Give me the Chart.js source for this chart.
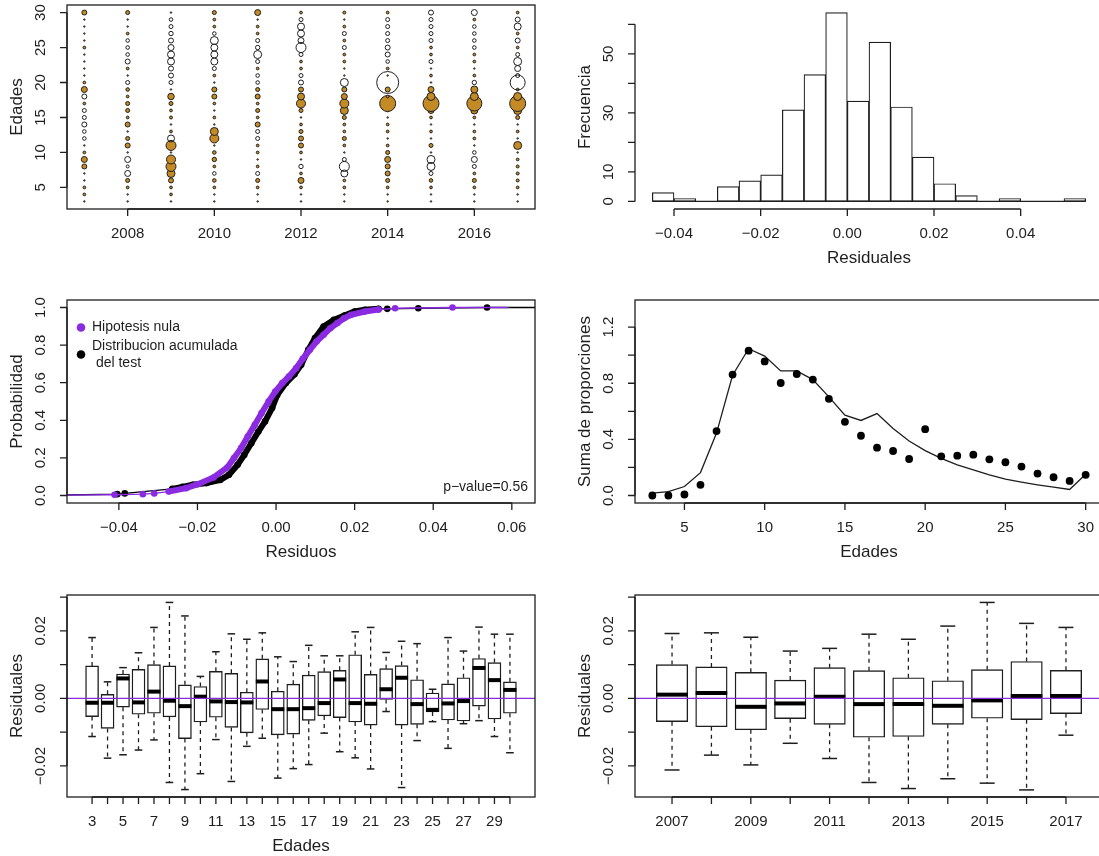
<!DOCTYPE html>
<html lang="es">
<head>
<meta charset="utf-8">
<title>Diagnósticos de residuales</title>
<script src="https://cdn.jsdelivr.net/npm/chart.js@4.4.1/dist/chart.umd.min.js"></script>
<style>
  html, body { margin: 0; padding: 0; background: #fff; }
  #lienzo { position: relative; width: 1099px; height: 856px; overflow: hidden; background: #fff; }
  #lienzo canvas { position: absolute; }
</style>
</head>
<body>
<div id="lienzo">
  <canvas id="burbujas"></canvas>
  <canvas id="histograma"></canvas>
  <canvas id="acumulada"></canvas>
  <canvas id="proporciones"></canvas>
  <canvas id="cajasEdad"></canvas>
  <canvas id="cajasAnio"></canvas>
</div>
<script>
// ---- panel 1: residuales por año y edad (edades 3..30), positivo = naranja
const anios = [2007, 2008, 2009, 2010, 2011, 2012, 2013, 2014, 2015, 2016, 2017];
const edades = [3, 4, 5, 6, 7, 8, 9, 10, 11, 12, 13, 14, 15, 16, 17, 18, 19, 20, 21, 22, 23, 24, 25, 26, 27, 28, 29, 30];
const res2007 = [0.3, 0.55, 0.55, 0.3, 0.3, 1.0, 1.2, 0.55, 0.3, -0.72, -0.72, -1.0, -0.8, -0.8, 0.55, -1.0, 1.2, 0.55, 0.3, 0.3, 0.3, 0.3, 0.55, 0.3, 0.3, 0.3, 0.3, 1.0];
const res2008 = [0.3, 0.3, 0.55, 0.8, -1.2, -0.6, -1.2, 0.3, 1.0, 0.8, 0.3, 1.0, 0.55, 0.8, 0.8, 0.55, 0.72, -0.8, 0.3, 0.55, -1.0, -0.72, -0.72, -0.72, 0.55, 0.3, 0.3, 0.8];
const res2009 = [0.3, 0.55, 0.55, 1.0, 1.6, 2.0, 1.8, 0.3, 2.0, -1.4, 0.55, 0.3, 0.6, 0.55, 0.8, 1.3, 0.3, -0.8, -1.0, -1.0, -1.4, -1.4, -1.2, -1.0, -0.88, -0.8, -0.72, 0.3];
const res2010 = [0.3, 0.3, 0.55, 0.72, -0.72, 0.55, 0.88, 0.72, 0.3, 1.8, 1.6, 0.3, 0.55, 0.3, 0.55, 1.0, 1.0, 0.3, 0.55, -0.8, -1.4, -1.4, -1.4, -1.6, -0.72, 0.55, 0.55, 0.8];
const res2011 = [0.3, 0.3, 0.55, 0.8, -0.8, 0.55, 0.3, 0.55, 0.55, -0.8, -0.8, 1.0, 0.55, 0.8, 0.55, 1.0, 0.8, -0.72, -0.72, 0.55, -0.8, -1.6, -0.88, -0.8, 0.55, 0.55, 0.3, 1.2];
const res2012 = [0.3, 0.3, 0.55, 1.2, 0.55, -0.88, 0.3, 0.55, 1.0, 1.0, 0.8, 0.55, 0.3, 0.8, 1.8, 1.4, 1.0, -1.0, -0.8, 0.55, 0.55, -0.8, -2.0, -1.2, -1.4, -1.4, -0.8, 0.55];
const res2013 = [0.3, 0.3, 0.55, 0.55, -1.4, -2.0, -0.8, 0.3, 0.55, 0.8, 0.55, 0.55, 0.8, 1.6, 1.8, 1.2, 1.0, -1.6, 0.3, 0.3, 0.55, 0.55, -0.8, 0.55, -0.8, 0.55, 0.3, 0.6];
const res2014 = [0.3, 0.3, 0.55, 0.8, 1.0, 1.0, 1.2, 0.8, 0.55, 0.3, 0.55, 0.55, 0.3, 0.55, 3.2, 0.55, 1.0, -4.4, 0.3, 0.55, -0.72, -1.0, -1.0, -0.8, -0.8, -0.8, -0.8, 0.55];
const res2015 = [0.3, 0.3, 0.55, 0.72, -0.8, -1.6, -1.6, 0.3, 0.8, 0.3, 0.55, 0.3, 0.55, 1.2, 3.2, 1.6, 1.2, 0.3, 0.55, 0.3, -0.8, 0.55, 0.55, -0.8, -0.8, -0.8, -0.8, -1.0];
const res2016 = [0.3, 0.3, 0.55, 0.8, 0.55, -0.8, -1.2, -0.72, 0.3, 0.55, 0.55, 0.3, 0.55, 1.4, 3.0, 1.6, 1.4, -0.88, 0.55, 0.3, 0.55, 0.55, -0.72, -0.72, -0.72, -0.72, 0.55, -1.2];
const res2017 = [0.3, 0.3, 0.55, 0.6, 0.6, 0.6, 0.55, 0.3, 1.6, 0.3, 0.55, 0.3, 0.8, 1.6, 3.2, 1.6, 0.55, -3.0, -0.8, -1.2, -1.6, -0.8, 0.55, -1.0, 0.55, -1.4, -1.0, 0.55];
const residuosPorAnio = [res2007, res2008, res2009, res2010, res2011, res2012, res2013, res2014, res2015, res2016, res2017];

// ---- panel 2: histograma de residuales
const marcasClase = [-0.0425, -0.0375, -0.0325, -0.0275, -0.0225, -0.0175, -0.0125, -0.0075, -0.0025, 0.0025,
                     0.0075, 0.0125, 0.0175, 0.0225, 0.0275, 0.0325, 0.0375, 0.0425, 0.0475, 0.0525];
const frecuencias = [3, 1, 0, 5, 7, 9, 31, 43, 64, 34, 54, 32, 15, 6, 2, 0, 1, 0, 0, 1];
const anchoClase = 0.005;

// ---- panel 3: distribución acumulada
const testX = [-0.0404, -0.0385, -0.0264, -0.0238, -0.0212, -0.0177, -0.0142, -0.012, -0.0098, -0.0081,
               -0.0063, -0.0045, -0.0028, -0.001, 0.0003, 0.0025, 0.0047, 0.0064, 0.0082, 0.0099,
               0.0121, 0.0147, 0.0174, 0.02, 0.0226, 0.0261, 0.0283, 0.0362, 0.0537];
const testY = [0.007, 0.011, 0.035, 0.046, 0.057, 0.066, 0.083, 0.11, 0.163, 0.216,
               0.278, 0.34, 0.394, 0.465, 0.535, 0.598, 0.645, 0.695, 0.775, 0.837,
               0.899, 0.934, 0.957, 0.979, 0.988, 0.993, 0.993, 0.996, 1.0];
const nulaX = [-0.0411, -0.0339, -0.031, -0.0273, -0.0229, -0.0199, -0.0159, -0.0124, -0.0107, -0.0089,
               -0.0072, -0.0054, -0.0037, -0.0019, -0.0002, 0.0016, 0.0033, 0.0051, 0.0068, 0.0086,
               0.0103, 0.0121, 0.0138, 0.0156, 0.0173, 0.0191, 0.0226, 0.0261, 0.0303, 0.0449];
const nulaY = [0.004, 0.007, 0.011, 0.021, 0.039, 0.06, 0.096, 0.149, 0.199, 0.252,
               0.314, 0.376, 0.438, 0.5, 0.553, 0.598, 0.633, 0.677, 0.727, 0.775,
               0.819, 0.855, 0.89, 0.917, 0.943, 0.961, 0.979, 0.989, 0.996, 1.0];
const colaIzq = -0.06, colaNula = 0.059, colaTest = 0.07;
const tramoDenso = [-0.03, 0.028];
const pValor = 'p\u2212value=0.56';

// ---- panel 4: suma de proporciones por edad
const propObs = [0.0, 0.0, 0.007, 0.076, 0.459, 0.862, 1.032, 0.956, 0.802, 0.866, 0.826, 0.689, 0.525, 0.426,
                 0.341, 0.317, 0.26, 0.473, 0.279, 0.284, 0.291, 0.258, 0.237, 0.206, 0.156, 0.13, 0.104, 0.147];
const propEst = [0.017, 0.028, 0.064, 0.163, 0.445, 0.857, 1.046, 0.994, 0.888, 0.888, 0.826, 0.703, 0.573, 0.535,
                 0.584, 0.478, 0.388, 0.32, 0.265, 0.218, 0.182, 0.147, 0.116, 0.095, 0.076, 0.059, 0.043, 0.151];

// ---- panel 5: cajas por edad
const edadMax = [0.018, 0.0049, 0.0091, 0.0135, 0.021, 0.0284, 0.0244, 0.0065, 0.0138, 0.0191, 0.0175, 0.0194, 0.0123, 0.0109,
                 0.0157, 0.0126, 0.0126, 0.0197, 0.021, 0.0136, 0.0169, 0.0162, 0.0027, 0.018, 0.014, 0.0211, 0.019, 0.019];
const edadQ3 = [0.0096, 0.0012, 0.0072, 0.0086, 0.01, 0.0096, 0.004, 0.0035, 0.008, 0.0074, 0.0018, 0.0117, 0.0021, 0.0042,
                0.0069, 0.0079, 0.0083, 0.0129, 0.0071, 0.0088, 0.0097, 0.0055, 0.0016, 0.0043, 0.0061, 0.0118, 0.0106, 0.0049];
const edadMed = [-0.0013, -0.0013, 0.0059, -0.0012, 0.002, -0.0007, -0.0023, 0.0005, -0.0009, -0.0011, -0.0012, 0.005, -0.0032, -0.0032,
                 -0.0029, -0.0014, 0.0056, -0.0014, -0.0016, 0.0027, 0.0061, -0.0017, -0.0034, -0.0015, -0.0008, 0.009, 0.0054, 0.0025];
const edadQ1 = [-0.0054, -0.0089, -0.0026, -0.0047, -0.0044, -0.0055, -0.0119, -0.007, -0.0056, -0.0086, -0.0102, -0.0033, -0.0108, -0.0106,
                -0.0065, -0.0052, -0.0057, -0.007, -0.0079, -0.0003, -0.0079, -0.0077, -0.004, -0.0064, -0.0067, -0.0023, -0.0061, -0.0044];
const edadMin = [-0.0113, -0.0177, -0.0167, -0.0153, -0.0123, -0.0249, -0.027, -0.0223, -0.0122, -0.0246, -0.0142, -0.0118, -0.0236, -0.0208,
                 -0.0196, -0.0103, -0.0158, -0.0176, -0.0209, -0.0039, -0.0264, -0.0125, -0.0069, -0.0148, -0.0075, -0.0066, -0.0113, -0.0161];

// ---- panel 6: cajas por año
const anioMax = [0.0192, 0.0194, 0.0181, 0.014, 0.0148, 0.019, 0.0175, 0.0214, 0.0284, 0.0222, 0.021];
const anioQ3 = [0.01, 0.0093, 0.0077, 0.0054, 0.0091, 0.0082, 0.0061, 0.0052, 0.0085, 0.0109, 0.0083];
const anioMed = [0.0011, 0.0016, -0.0025, -0.0015, 0.0005, -0.0017, -0.0017, -0.0022, -0.0006, 0.0007, 0.0007];
const anioQ1 = [-0.0069, -0.0084, -0.0093, -0.006, -0.0077, -0.0115, -0.0113, -0.0077, -0.0059, -0.0063, -0.0045];
const anioMin = [-0.0212, -0.0168, -0.0197, -0.0133, -0.0178, -0.0249, -0.0267, -0.0238, -0.0251, -0.0271, -0.0109];

// ---- marcas de ejes
const ticksAnioPar = [2008, 2010, 2012, 2014, 2016];
const ticksEdad5 = [5, 10, 15, 20, 25, 30];
const ticksRes = [-0.04, -0.02, 0, 0.02, 0.04];
const etiqRes = ['\u22120.04', '\u22120.02', '0.00', '0.02', '0.04'];
const ticksFrec = [0, 10, 20, 30, 40, 50, 60];
const etiqFrec = ['0', '10', '', '30', '', '50', ''];
const ticksResAc = [-0.04, -0.02, 0, 0.02, 0.04, 0.06];
const etiqResAc = ['\u22120.04', '\u22120.02', '0.00', '0.02', '0.04', '0.06'];
const ticksProb = [0, 0.2, 0.4, 0.6, 0.8, 1.0];
const etiqProb = ['0.0', '0.2', '0.4', '0.6', '0.8', '1.0'];
const ticksProp = [0, 0.2, 0.4, 0.6, 0.8, 1.0, 1.2];
const etiqProp = ['0.0', '', '0.4', '', '0.8', '', '1.2'];
const ticksCaja = [-0.02, -0.01, 0, 0.01, 0.02, 0.03];
const etiqCaja = ['\u22120.02', '', '0.00', '', '0.02', ''];

const tinta = '#1e1e1e';
const naranja = '#C38A26';
const morado = '#8A2BE2';
const fuente = '"Liberation Sans", Arial, Helvetica, sans-serif';

// ejes al estilo de R: caja, marcas hacia fuera, etiquetas del eje y giradas
const rAxes = {
  id: 'rAxes',
  afterDatasetsDraw(chart, args, o) {
    if (!o.xTicks) return;
    const ctx = chart.ctx, a = chart.chartArea;
    const xs = chart.scales.x, ys = chart.scales.y;
    ctx.save();
    if (o.hLine !== undefined) {
      const py = ys.getPixelForValue(o.hLine);
      ctx.strokeStyle = morado; ctx.lineWidth = 1.4;
      ctx.beginPath(); ctx.moveTo(a.left, py); ctx.lineTo(a.right, py); ctx.stroke();
    }
    ctx.strokeStyle = tinta; ctx.lineWidth = 1.3;
    if (o.box) ctx.strokeRect(a.left, a.top, a.right - a.left, a.bottom - a.top);
    const xp = o.xTicks.map(v => xs.getPixelForValue(v));
    const yp = o.yTicks.map(v => ys.getPixelForValue(v));
    ctx.beginPath();
    ctx.moveTo(xp[0], a.bottom); ctx.lineTo(xp[xp.length - 1], a.bottom);
    xp.forEach(p => { ctx.moveTo(p, a.bottom); ctx.lineTo(p, a.bottom + 7); });
    ctx.moveTo(a.left, yp[0]); ctx.lineTo(a.left, yp[yp.length - 1]);
    yp.forEach(p => { ctx.moveTo(a.left, p); ctx.lineTo(a.left - 7, p); });
    ctx.stroke();

    ctx.fillStyle = tinta;
    ctx.font = '15px ' + fuente;
    ctx.textAlign = 'center'; ctx.textBaseline = 'middle';
    xp.forEach((p, i) => ctx.fillText(o.xLabels[i], p, a.bottom + 25));
    yp.forEach((p, i) => {
      ctx.save(); ctx.translate(a.left - 26, p); ctx.rotate(-Math.PI / 2);
      ctx.fillText(o.yLabels[i], 0, 0); ctx.restore();
    });
    ctx.font = '17px ' + fuente;
    if (o.xTitle) ctx.fillText(o.xTitle, (a.left + a.right) / 2, a.bottom + 49);
    if (o.yTitle) {
      ctx.save(); ctx.translate(a.left - 50, (a.top + a.bottom) / 2); ctx.rotate(-Math.PI / 2);
      ctx.fillText(o.yTitle, 0, 0); ctx.restore();
    }
    if (o.leyenda) {
      ctx.font = '14px ' + fuente;
      ctx.textAlign = 'left';
      o.leyenda.forEach(item => {
        ctx.fillStyle = item.color;
        ctx.beginPath(); ctx.arc(a.left + 14, a.top + item.dy, 4.3, 0, Math.PI * 2); ctx.fill();
        ctx.fillStyle = tinta;
        item.lineas.forEach((t, k) => {
          const off = (k - (item.lineas.length - 1) / 2) * 17;
          ctx.fillText(t, a.left + 25, a.top + item.dy + off);
        });
      });
    }
    if (o.nota) {
      ctx.font = '14px ' + fuente;
      ctx.textAlign = 'right';
      ctx.fillText(o.nota, a.right - 7, a.bottom - 16);
    }
    ctx.restore();
  }
};
Chart.register(rAxes);

// coloca el lienzo para que el área de trazado coincida con la caja
function colocar(id, caja) {
  const c = document.getElementById(id);
  c.width = caja.r - caja.l + 80;
  c.height = caja.b - caja.t + 70;
  c.style.left = (caja.l - 70) + 'px';
  c.style.top = (caja.t - 10) + 'px';
  return { left: 70, top: 10, right: 10, bottom: 60 };
}

function opciones(id, caja, x, y, ejes) {
  return {
    responsive: false, maintainAspectRatio: false, animation: false, devicePixelRatio: 1, events: [],
    layout: { padding: colocar(id, caja), autoPadding: false },
    scales: {
      x: { type: 'linear', min: x[0], max: x[1], display: false, offset: false },
      y: { type: 'linear', min: y[0], max: y[1], display: false }
    },
    plugins: { legend: { display: false }, tooltip: { enabled: false }, rAxes: ejes }
  };
}

function datasetsCajas(xs, mn, q1, med, q3, mx, ancho, tapa) {
  const bigotes = [];
  const tapas = [];
  xs.forEach((x, i) => {
    bigotes.push({ x, y: q3[i] }, { x, y: mx[i] }, { x, y: null }, { x, y: q1[i] }, { x, y: mn[i] }, { x, y: null });
    tapas.push({ x, y: mx[i] }, { x, y: mn[i] });
  });
  return [
    { type: 'line', data: bigotes, borderColor: tinta, borderWidth: 1.3, borderDash: [4, 4], pointRadius: 0, spanGaps: false, order: 4 },
    { type: 'bar', data: xs.map((x, i) => ({ x, y: [q1[i], q3[i]] })), backgroundColor: '#fff', borderColor: tinta,
      borderWidth: 1.4, borderSkipped: false, barThickness: ancho, grouped: false, order: 3 },
    { type: 'scatter', data: tapas, pointStyle: 'line', pointRadius: tapa, pointBorderWidth: 1.5, pointBorderColor: tinta, order: 2 },
    { type: 'scatter', data: xs.map((x, i) => ({ x, y: med[i] })), pointStyle: 'line', pointRadius: ancho / 2,
      pointBorderWidth: 4, pointBorderColor: '#000', order: 1 }
  ];
}

const cajaP1 = { l: 67, t: 5, r: 535, b: 209 };
const cajaP2 = { l: 635, t: 5, r: 1103, b: 209 };
const cajaP3 = { l: 67, t: 300, r: 535, b: 503 };
const cajaP4 = { l: 635, t: 300, r: 1103, b: 503 };
const cajaP5 = { l: 67, t: 595, r: 535, b: 797 };
const cajaP6 = { l: 635, t: 595, r: 1103, b: 797 };

// panel 1
const burbujas = [];
anios.forEach((an, i) => edades.forEach((e, j) => burbujas.push({ x: an, y: e, v: residuosPorAnio[i][j] })));
new Chart(document.getElementById('burbujas'), {
  type: 'scatter',
  data: { datasets: [{
    data: burbujas,
    pointRadius: c => c.raw ? 2.5 * Math.abs(c.raw.v) : 0,
    pointBackgroundColor: c => (c.raw && c.raw.v > 0) ? naranja : 'rgba(0,0,0,0)',
    pointBorderColor: tinta, pointBorderWidth: 1
  }] },
  options: opciones('burbujas', cajaP1, [2006.6, 2017.4], [1.92, 31.08], {
    box: true, xTicks: ticksAnioPar, xLabels: ticksAnioPar.map(String),
    yTicks: ticksEdad5, yLabels: ticksEdad5.map(String), yTitle: 'Edades'
  })
});

// panel 2
new Chart(document.getElementById('histograma'), {
  type: 'bar',
  data: { datasets: [
    { data: marcasClase.map((m, i) => ({ x: m, y: frecuencias[i] })), backgroundColor: '#fff', borderColor: tinta,
      borderWidth: 1.2, borderSkipped: false, barPercentage: 1, categoryPercentage: 1, order: 1 },
    { type: 'line', data: [{ x: marcasClase[0] - anchoClase / 2, y: 0 }, { x: marcasClase[marcasClase.length - 1] + anchoClase / 2, y: 0 }],
      borderColor: tinta, borderWidth: 1.3, pointRadius: 0, order: 0 }
  ] },
  options: opciones('histograma', cajaP2, [-0.049, 0.059], [-2.56, 66.56], {
    box: false, xTicks: ticksRes, xLabels: etiqRes, yTicks: ticksFrec, yLabels: etiqFrec,
    xTitle: 'Residuales', yTitle: 'Frecuencia'
  })
});

// panel 3
const grueso = s => (s.p0.parsed.x > tramoDenso[0] && s.p1.parsed.x < tramoDenso[1]) ? 6 : 1.3;
const puntosTest = testX.map((x, i) => ({ x, y: testY[i] }));
const puntosNula = nulaX.map((x, i) => ({ x, y: nulaY[i] }));
new Chart(document.getElementById('acumulada'), {
  type: 'line',
  data: { datasets: [
    { data: [{ x: colaIzq, y: 0 }, ...puntosTest, { x: colaTest, y: 1 }], borderColor: '#000', borderWidth: 1.3,
      borderCapStyle: 'round', pointRadius: 0, segment: { borderWidth: grueso }, order: 4 },
    { type: 'scatter', data: puntosTest, pointRadius: 3.3, pointBackgroundColor: '#000', pointBorderWidth: 0, order: 3 },
    { data: [{ x: colaIzq, y: 0 }, ...puntosNula, { x: colaNula, y: 1 }], borderColor: morado, borderWidth: 1.3,
      borderCapStyle: 'round', pointRadius: 0, segment: { borderWidth: grueso }, order: 2 },
    { type: 'scatter', data: puntosNula, pointRadius: 3.3, pointBackgroundColor: morado, pointBorderWidth: 0, order: 1 }
  ] },
  options: opciones('acumulada', cajaP3, [-0.0532, 0.0659], [-0.04, 1.04], {
    box: true, xTicks: ticksResAc, xLabels: etiqResAc, yTicks: ticksProb, yLabels: etiqProb,
    xTitle: 'Residuos', yTitle: 'Probabilidad',
    leyenda: [
      { color: morado, lineas: ['Hipotesis nula'], dy: 27.5 },
      { color: '#000', lineas: ['Distribucion acumulada', ' del test'], dy: 54.5 }
    ],
    nota: pValor
  })
});

// panel 4
new Chart(document.getElementById('proporciones'), {
  type: 'line',
  data: { datasets: [
    { data: edades.map((e, i) => ({ x: e, y: propEst[i] })), borderColor: tinta, borderWidth: 1.3, pointRadius: 0, order: 1 },
    { type: 'scatter', data: edades.map((e, i) => ({ x: e, y: propObs[i] })), pointRadius: 3.9,
      pointBackgroundColor: '#000', pointBorderWidth: 0, order: 0 }
  ] },
  options: opciones('proporciones', cajaP4, [1.92, 31.08], [-0.0536, 1.3936], {
    box: true, xTicks: [5, 10, 15, 20, 25, 30], xLabels: ['5', '10', '15', '20', '25', '30'],
    yTicks: ticksProp, yLabels: etiqProp, xTitle: 'Edades', yTitle: 'Suma de proporciones'
  })
});

// panel 5
new Chart(document.getElementById('cajasEdad'), {
  type: 'bar',
  data: { datasets: datasetsCajas(edades, edadMin, edadQ1, edadMed, edadQ3, edadMax, 13, 3.8) },
  options: opciones('cajasEdad', cajaP5, [1.38, 31.62], [-0.0292, 0.0306], {
    box: true, hLine: 0, xTicks: edades, xLabels: edades.map(e => e % 2 ? String(e) : ''),
    yTicks: ticksCaja, yLabels: etiqCaja, xTitle: 'Edades', yTitle: 'Residuales'
  })
});

// panel 6
new Chart(document.getElementById('cajasAnio'), {
  type: 'bar',
  data: { datasets: datasetsCajas(anios, anioMin, anioQ1, anioMed, anioQ3, anioMax, 31.5, 7.5) },
  options: opciones('cajasAnio', cajaP6, [2006.06, 2017.94], [-0.0292, 0.0306], {
    box: true, hLine: 0, xTicks: anios, xLabels: anios.map(a => a % 2 ? String(a) : ''),
    yTicks: ticksCaja, yLabels: etiqCaja, yTitle: 'Residuales'
  })
});
</script>
</body>
</html>
